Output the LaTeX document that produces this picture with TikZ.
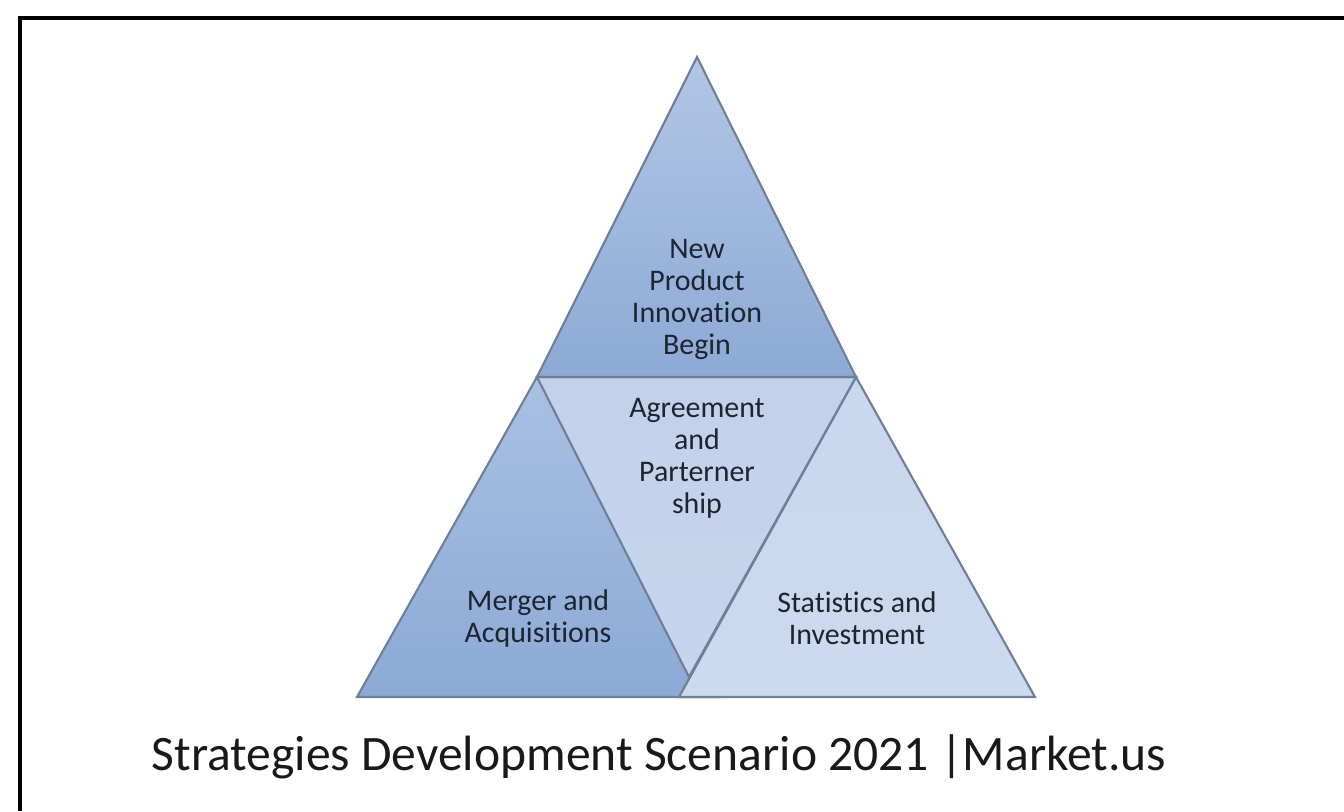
\documentclass[tikz,border=0pt]{standalone}
\usepackage{fontspec}
\setmainfont{Carlito}[Ligatures=NoCommon]
\definecolor{edgegray}{HTML}{6F7F98}
\definecolor{txtdark}{HTML}{1E2430}
\definecolor{blueDark}{HTML}{8CAAD6}
\definecolor{blueMid}{HTML}{A9C0E2}
\definecolor{blueLight}{HTML}{C6D5EC}
\definecolor{bluePale}{HTML}{CCDAEF}
\begin{document}
\begin{tikzpicture}[
  x=0.01cm, y=-0.01cm,
  tri/.style={draw=edgegray, line width=0.6pt, line join=miter},
  lbl/.style={align=center, text=txtdark, font=\fontsize{8.5}{9.1}\selectfont},
  title/.style={text=black!90, font=\fontsize{14.1}{16}\selectfont}
]
\useasboundingbox (0,0) rectangle (1344,811);

% corner points of the pyramid
\coordinate (apex) at (697,57);
\coordinate (midL) at (537,377);
\coordinate (midR) at (856,377);
\coordinate (midB) at (689,677);
\coordinate (baseL) at (357,697);
\coordinate (baseM) at (679,697);
\coordinate (baseR) at (1035,697);

% frame
\draw[line width=1.2pt] (20,811) -- (20,18) -- (1344,18);

% four triangles
\shade[tri, top color=blueMid, bottom color=blueDark] (midL) -- (baseL) -- (720,697) -- cycle;
\shade[tri, top color=bluePale!90!blueMid, bottom color=bluePale] (midR) -- (baseM) -- (baseR) -- cycle;
\shade[tri, top color=blueLight!85!blueMid, bottom color=blueLight] (midL) -- (midR) -- (midB) -- cycle;
\shade[tri, top color=blueMid!90!white, bottom color=blueDark] (apex) -- (midL) -- (midR) -- cycle;

% labels
\node[lbl] (innov) at (697,299) {New\\Product\\Innovation\\Begin};
\node[lbl] (agree) at (697,458) {Agreement\\and\\Parterner\\ship};
\node[lbl] (merger) at (538,619) {Merger and\\Acquisitions};
\node[lbl] (stats) at (857,618) {Statistics and\\Investment};

\node[title] (caption) at (659,757) {Strategies Development Scenario 2021 |Market.us};
\end{tikzpicture}
\end{document}
